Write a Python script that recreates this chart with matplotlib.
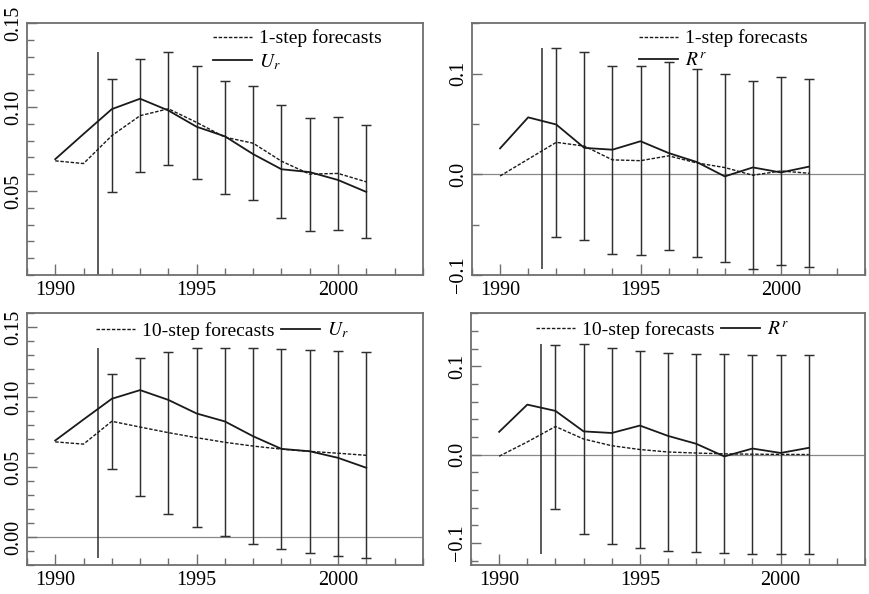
import numpy as np
import matplotlib
matplotlib.use("Agg")
import matplotlib.pyplot as plt
from matplotlib.ticker import MultipleLocator, FixedLocator, FuncFormatter

plt.rcParams['font.family'] = ['Liberation Serif', 'DejaVu Serif']
plt.rcParams['mathtext.fontset'] = 'stix'

years = np.arange(1990, 2002)
fc_years = np.arange(1992, 2002)
break_year = 1991.5

# actual series
u_r = [0.0690, 0.0840, 0.0988, 0.1050, 0.0980, 0.0883, 0.0826, 0.0720, 0.0630, 0.0613, 0.0566, 0.0495]
r_r = [0.0257, 0.0565, 0.0494, 0.0262, 0.0244, 0.0328, 0.0211, 0.0122, -0.0021, 0.0068, 0.0018, 0.0076]

# 1-step forecasts and error-bar half widths
u_1step = [0.0680, 0.0664, 0.0830, 0.0949, 0.0990, 0.0909, 0.0821, 0.0785, 0.0678, 0.0601, 0.0605, 0.0555]
u_1step_se = [0.0338, 0.0338, 0.0336, 0.0338, 0.0337, 0.0338, 0.0336, 0.0336, 0.0336, 0.0336]
r_1step = [-0.0017, 0.0150, 0.0317, 0.0280, 0.0143, 0.0135, 0.0183, 0.0113, 0.0067, -0.0010, 0.0033, 0.0010]
r_1step_se = [0.0940, 0.0937, 0.0933, 0.0935, 0.0933, 0.0937, 0.0933, 0.0933, 0.0933, 0.0933]

# 10-step forecasts and error-bar half widths
u_10step = [0.0680, 0.0664, 0.0827, 0.0786, 0.0746, 0.0710, 0.0677, 0.0650, 0.0628, 0.0612, 0.0599, 0.0584]
u_10step_se = [0.0340, 0.0490, 0.0578, 0.0638, 0.0671, 0.0698, 0.0714, 0.0726, 0.0732, 0.0736]
r_10step = [-0.0019, 0.0143, 0.0317, 0.0176, 0.0100, 0.0057, 0.0029, 0.0017, 0.0008, 0.0004, 0.0002, 0.0000]
r_10step_se = [0.0928, 0.1070, 0.1108, 0.1120, 0.1123, 0.1123, 0.1125, 0.1125, 0.1123, 0.1123]

x_ticks = [1990, 1995, 2000]
ink = '#1a1a1a'
bar_ink = '#2e2e2e'
frame = '#6e6e6e'


def fmt_minus(fmt):
    return FuncFormatter(lambda v, p: (fmt % v).replace('-', '\u2212'))


def draw_panel(ax, actual, fcst, se, fc_label, act_label, ylim, yticks, yminor, yfmt,
               legend_xy, ncol):
    fcst = np.asarray(fcst)
    se = np.asarray(se)
    ax.set_xlim(1989, 2003)
    ax.set_ylim(*ylim)
    if ylim[0] < 0:
        ax.axhline(0, color='#888888', lw=0.9, zorder=1)

    lower = fcst[2:] - se
    upper = fcst[2:] + se
    ax.vlines(break_year, min(lower.min(), 0), upper.max(), color=bar_ink, lw=1.1, zorder=2)
    ax.errorbar(fc_years, fcst[2:], yerr=se, fmt='none', ecolor=bar_ink,
                elinewidth=1.05, capsize=3.6, capthick=1.05, zorder=2)

    ax.plot(years, fcst, color=ink, lw=1.0, ls=(0, (2.5, 1.2)), label=fc_label, zorder=3)
    ax.plot(years, actual, color=ink, lw=1.3, label=act_label, zorder=3)

    ax.xaxis.set_major_locator(FixedLocator(x_ticks))
    ax.xaxis.set_minor_locator(MultipleLocator(1))
    ax.yaxis.set_major_locator(FixedLocator(yticks))
    ax.yaxis.set_minor_locator(MultipleLocator(yminor))
    ax.yaxis.set_major_formatter(fmt_minus(yfmt))

    ax.tick_params(which='both', direction='in', color=frame, width=1.0,
                   labelsize=14.5, top=False, right=False)
    ax.tick_params(axis='x', which='major', length=8, pad=4)
    ax.tick_params(axis='x', which='minor', length=5)
    ax.tick_params(axis='y', which='major', length=7, pad=3)
    ax.tick_params(axis='y', which='minor', length=5)
    for lab in ax.get_yticklabels():
        lab.set_rotation(90)
        lab.set_va('center')

    for sp in ax.spines.values():
        sp.set_color(frame)
        sp.set_linewidth(1.3)

    ax.legend(loc='upper left', bbox_to_anchor=legend_xy, ncol=ncol, frameon=False,
              fontsize=14, borderpad=0, borderaxespad=0, handlelength=2.0,
              handletextpad=0.35, labelspacing=0.25, columnspacing=0.35)


fig = plt.figure(figsize=(8.7, 5.94), dpi=100)
ax_tl = fig.add_axes([0.031, 0.537, 0.455, 0.424])
ax_tr = fig.add_axes([0.5425, 0.537, 0.452, 0.424])
ax_bl = fig.add_axes([0.031, 0.0488, 0.455, 0.424])
ax_br = fig.add_axes([0.5414, 0.0488, 0.4529, 0.424])

draw_panel(ax_tl, u_r, u_1step, u_1step_se, '1-step forecasts', '$U_r$',
           (0.0, 0.15), [0.05, 0.10, 0.15], 0.01, '%.2f', (0.47, 0.975), 1)
draw_panel(ax_tr, r_r, r_1step, r_1step_se, '1-step forecasts', '$R^r$',
           (-0.1, 0.15), [-0.1, 0.0, 0.1], 0.05, '%.1f', (0.425, 0.975), 1)
draw_panel(ax_bl, u_r, u_10step, u_10step_se, '10-step forecasts', '$U_r$',
           (-0.02, 0.16), [0.0, 0.05, 0.10, 0.15], 0.01, '%.2f', (0.175, 0.97), 2)
draw_panel(ax_br, r_r, r_10step, r_10step_se, '10-step forecasts', '$R^r$',
           (-0.125, 0.16), [-0.1, 0.0, 0.1], 0.02, '%.1f', (0.165, 0.97), 2)

fig.savefig('out.png', dpi=100)
